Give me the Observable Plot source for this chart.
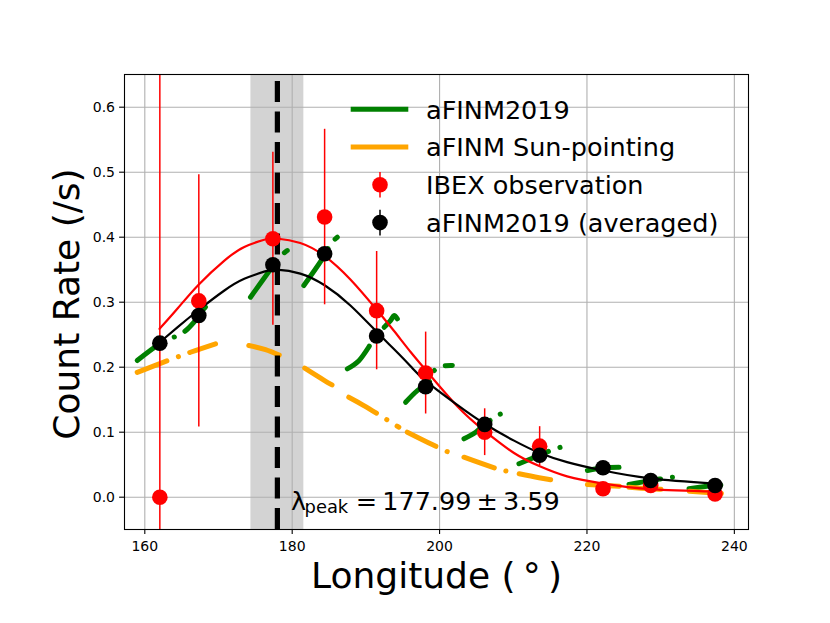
<!DOCTYPE html>
<html><head><meta charset="utf-8">
<script src="https://cdn.jsdelivr.net/npm/d3@7"></script>
<script src="https://cdn.jsdelivr.net/npm/@observablehq/plot@0.6"></script>
<style>html,body{margin:0;padding:0;background:#fff}</style>
</head><body><div id="chart"></div>
<script>
// ---- orbit-averaged values ----
const longitude = [162.04, 167.33, 177.38, 184.40, 191.46, 198.11, 206.12, 213.58, 222.18, 228.65, 237.38];
const ibexRate  = [0.000, 0.302, 0.3975, 0.431, 0.287, 0.191, 0.100, 0.0785, 0.013, 0.018, 0.005];
const ibexErr   = [0.72, 0.194, 0.133, 0.135, 0.091, 0.063, 0.036, 0.030, 0.006, 0.005, 0.004];
const modelRate = [0.237, 0.2795, 0.3575, 0.3745, 0.248, 0.170, 0.112, 0.0646, 0.0452, 0.0257, 0.018];
const modelErr  = [0.006, 0.006, 0.006, 0.006, 0.005, 0.005, 0.004, 0.003, 0.003, 0.002, 0.002];

// ---- fitted curves ----
const fitLon   = [162.0, 164.5, 167.3, 170.8, 173.5, 176.2, 177.9, 181.1, 184.4, 187.9, 191.5, 193.8, 196.1, 198.1, 202.4, 206.1, 210.1, 213.6, 217.3, 222.2, 228.6, 237.4];
const ibexFit  = [0.259, 0.291, 0.327, 0.364, 0.385, 0.396, 0.398, 0.391, 0.371, 0.335, 0.288, 0.256, 0.223, 0.196, 0.140, 0.102, 0.068, 0.0475, 0.032, 0.021, 0.0125, 0.0088];
const modelFit = [0.238, 0.262, 0.288, 0.318, 0.336, 0.347, 0.350, 0.344, 0.326, 0.295, 0.254, 0.228, 0.201, 0.179, 0.142, 0.113, 0.087, 0.068, 0.054, 0.041, 0.029, 0.021];

// ---- aFINM2019 per-orbit model segments ----
const afinmSeg  = [1,1,1,1,1,1, 2,2,2,2, 3,3,3,3, 4,4,4,4,4,4, 5,5,5,5,5,5,5, 6,6,6,6,6,6, 7,7,7,7, 8,8,8, 9,9,9, 10,10,10];
const afinmLon  = [158.97,162.04,165.29,166.65,167.79,169.37, 174.34,177.33,178.19,179.33, 181.58,184.40,185.20,186.12,
                   187.48,189.05,191.46,193.36,193.83,194.27, 195.39,196.98,198.11,199.02,199.30,200.38,201.73,
                   203.31,204.90,206.16,207.17,208.29,209.42, 210.77,213.58,215.08,216.44, 220.06,222.18,224.35,
                   225.71,228.65,231.60, 233.85,237.38,239.07];
const afinmRate = [0.2103,0.236,0.254,0.269,0.287,0.305, 0.3077,0.355,0.369,0.3795, 0.3257,0.372,0.390,0.400,
                   0.1975,0.210,0.2488,0.272,0.2795,0.2745, 0.146,0.164,0.172,0.1846,0.195,0.2015,0.2026,
                   0.0898,0.100,0.112,0.1206,0.128,0.128, 0.0514,0.0646,0.0718,0.0769, 0.041,0.0452,0.0462,
                   0.0195,0.0257,0.0308, 0.0129,0.018,0.018];

// ---- aFINM Sun-pointing per-orbit segments ----
const sunSeg  = [1,1,1,1, 2,2,2, 3,3,3, 4,4,4, 5,5,5, 6,6,6, 7,7,7, 8,8,8, 9,9,9, 10,10,10];
const sunLon  = [158.97,162.13,166.20,169.60, 174.11,176.38,179.37, 181.70,184.39,186.33, 187.68,189.72,194.47,
                 195.62,199.00,201.50, 203.31,208.29,209.20, 210.80,213.50,216.40, 220.06,222.20,224.40,
                 225.70,228.60,231.60, 233.90,237.40,239.10];
const sunRate = [0.192,0.206,0.223,0.236, 0.2334,0.227,0.213, 0.1985,0.1795,0.1668, 0.1538,0.141,0.1077,
                 0.100,0.081,0.0677, 0.0615,0.042,0.040, 0.036,0.030,0.0242, 0.0195,0.018,0.017,
                 0.0154,0.013,0.0114, 0.0092,0.0065,0.005];

// ---- peak estimate ----
const peakLon = 177.99, peakErr = 3.59;
const peakLabelAt = {lon: 179.83, rate: -0.0194};

// ---- ticks & labels ----
const xTicks = [160, 180, 200, 220, 240];
const yTicks = [0, 0.1, 0.2, 0.3, 0.4, 0.5, 0.6];
const xLabel = "Longitude (\u2009°\u2009)";
const yLabel = "Count Rate (/s)";
const legendLabels = ["aFINM2019", "aFINM Sun-pointing", "IBEX observation", "aFINM2019 (averaged)"];
const legendKinds  = ["line", "line", "dot", "dot"];
const legendColors = ["green", "orange", "red", "black"];

const FONT = "DejaVu Sans";
const obs = longitude.map((lon, i) => ({lon, rate: ibexRate[i], err: ibexErr[i], model: modelRate[i], merr: modelErr[i]}));
const fits = fitLon.map((lon, i) => ({lon, ibex: ibexFit[i], model: modelFit[i]}));
const afinm = afinmLon.map((lon, i) => ({seg: afinmSeg[i], lon, rate: afinmRate[i]}));
const sun = sunLon.map((lon, i) => ({seg: sunSeg[i], lon, rate: sunRate[i]}));

const dash = "32,12,0.1,12";

function legendMark(index, scales, values, dimensions) {
  const {marginLeft, marginTop} = dimensions;
  const g = d3.create("svg:g").attr("font-family", FONT).attr("text-anchor", "start");
  legendLabels.forEach((label, i) => {
    const cy = marginTop + 35.2 + i * 37.8;
    const x0 = marginLeft + 226.7, x1 = marginLeft + 284.3, cx = marginLeft + 256;
    if (legendKinds[i] === "line") {
      g.append("line").attr("x1", x0).attr("x2", x1).attr("y1", cy).attr("y2", cy)
        .attr("stroke", legendColors[i]).attr("stroke-width", 5);
    } else {
      g.append("line").attr("x1", cx).attr("x2", cx).attr("y1", cy - 12.8).attr("y2", cy + 12.8)
        .attr("stroke", legendColors[i]).attr("stroke-width", 1.5);
      g.append("circle").attr("cx", cx).attr("cy", cy).attr("r", 7.8).attr("fill", legendColors[i]);
    }
    g.append("text").attr("x", marginLeft + 302).attr("y", cy + 9.3).attr("text-anchor", "start")
      .attr("font-size", 25.5).attr("fill", "black").text(label);
  });
  return g.node();
}

const chart = Plot.plot({
  width: 830, height: 623,
  marginLeft: 124, marginRight: 82, marginTop: 74, marginBottom: 94,
  x: {domain: [157.245, 241.92], label: null},
  y: {domain: [-0.0497, 0.6503], label: null},
  style: {fontFamily: FONT, background: "white", color: "black"},
  marks: [
    Plot.rect([{lon: peakLon, err: peakErr}], {x1: d => d.lon - d.err, x2: d => d.lon + d.err, fill: "#d3d3d3"}),
    Plot.gridX({ticks: xTicks, stroke: "#b0b0b0", strokeOpacity: 1, strokeWidth: 1.1}),
    Plot.gridY({ticks: yTicks, stroke: "#b0b0b0", strokeOpacity: 1, strokeWidth: 1.1}),
    Plot.line(afinm, {x: "lon", y: "rate", z: "seg", stroke: "green", strokeWidth: 5, curve: "catmull-rom",
      strokeDasharray: dash, strokeLinecap: "round"}),
    Plot.line(sun, {x: "lon", y: "rate", z: "seg", stroke: "orange", strokeWidth: 5, curve: "catmull-rom",
      strokeDasharray: dash, strokeLinecap: "round"}),
    Plot.line(fits, {x: "lon", y: "ibex", stroke: "red", strokeWidth: 2.2, curve: "natural"}),
    Plot.line(fits, {x: "lon", y: "model", stroke: "black", strokeWidth: 2.2, curve: "natural"}),
    Plot.ruleX([peakLon], {x: d => d, y1: -0.0497, y2: 0.6503, stroke: "black", strokeWidth: 5.2, strokeDasharray: "21,9.5"}),
    Plot.ruleX(obs, {x: "lon", y1: d => d.rate - d.err, y2: d => d.rate + d.err, stroke: "red", strokeWidth: 1.5, clip: true}),
    Plot.dot(obs, {x: "lon", y: "rate", r: 7.8, fill: "red"}),
    Plot.ruleX(obs, {x: "lon", y1: d => d.model - d.merr, y2: d => d.model + d.merr, stroke: "black", strokeWidth: 1.5}),
    Plot.dot(obs, {x: "lon", y: "model", r: 7.8, fill: "black"}),
    Plot.text([peakLabelAt], {x: "lon", y: "rate", text: () => "λ", fontSize: 25.5, textAnchor: "start", lineAnchor: "bottom", fill: "black"}),
    Plot.text([peakLabelAt], {x: "lon", y: "rate", text: () => "peak", fontSize: 17.9, dx: 13.6, dy: 3.4, textAnchor: "start", lineAnchor: "bottom", fill: "black"}),
    Plot.text([peakLabelAt], {x: "lon", y: "rate", text: () => `=\u2009${peakLon.toFixed(2)}\u2009±\u2009${peakErr.toFixed(2)}`,
      fontSize: 25.5, dx: 64.8, textAnchor: "start", lineAnchor: "bottom", fill: "black"}),
    legendMark,
    Plot.frame({stroke: "black", strokeWidth: 1.1}),
    Plot.axisX({ticks: xTicks, tickSize: 4.9, tickPadding: 6.5, fontSize: 14, tickFormat: d => String(d), strokeWidth: 1.1, label: null}),
    Plot.axisY({ticks: yTicks, tickSize: 4.9, tickPadding: 4.6, fontSize: 14, tickFormat: d3.format(".1f"), strokeWidth: 1.1, label: null}),
    Plot.text([xLabel], {frameAnchor: "bottom", text: d => d, dy: 58.3, fontSize: 36, lineAnchor: "bottom", textAnchor: "middle", fill: "black"}),
    Plot.text([yLabel], {frameAnchor: "left", text: d => d, dx: -45.4, dy: 2, rotate: -90, fontSize: 36, lineAnchor: "bottom", textAnchor: "middle", fill: "black"})
  ]
});
document.getElementById("chart").appendChild(chart);
</script>
</body></html>
